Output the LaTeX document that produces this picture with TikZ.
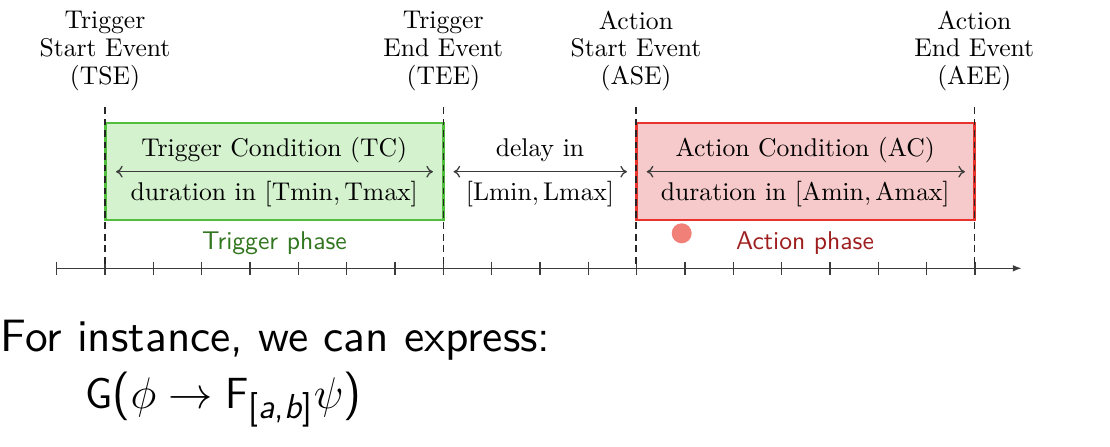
\documentclass[tikz,border=0pt]{standalone}
\usepackage{amsmath}
\usepackage{graphicx}
\usetikzlibrary{arrows.meta}
\definecolor{gborder}{RGB}{82,190,62}
\definecolor{gfill}{RGB}{212,242,206}
\definecolor{rborder}{RGB}{232,52,44}
\definecolor{rfill}{RGB}{246,202,202}
\definecolor{gtext}{RGB}{50,118,32}
\definecolor{rtext}{RGB}{158,30,30}
\definecolor{dotcol}{RGB}{240,128,120}
\definecolor{linecol}{RGB}{60,60,60}
\newcommand\sfletter[1]{{\fontsize{17}{20}\selectfont\sffamily #1}}
\begin{document}
\begin{tikzpicture}[x=0.39pt,y=-0.39pt,
  lbl/.style={align=center,inner sep=0pt,font=\fontsize{10}{10.9}\selectfont},
  phase/.style={inner sep=0pt,font=\fontsize{10}{12}\sffamily},
  gbox/.style={draw=gborder,fill=gfill,line width=1.1pt,minimum width=131.9pt,minimum height=37.8pt,inner sep=0pt},
  rbox/.style={draw=rborder,fill=rfill,line width=1.1pt,minimum width=131.9pt,minimum height=37.8pt,inner sep=0pt},
  dur/.style={draw=linecol,line width=0.5pt,{To[length=2.6pt,width=4.6pt]}-{To[length=2.6pt,width=4.6pt]}},
  evline/.style={draw=black!85,line width=0.6pt,dash pattern=on 2.6pt off 1.9pt},
  axisline/.style={draw=linecol,line width=0.5pt},
  tickmark/.style={draw=linecol,line width=0.5pt},
  big/.style={inner sep=0pt,font=\fontsize{10}{12}\sffamily}]
\useasboundingbox (0,0) rectangle (1110,446);

% event labels
\node[lbl] (tse) at (105,51) {Trigger\\Start Event\\(TSE)};
\node[lbl] (tee) at (443.3,51) {Trigger\\End Event\\(TEE)};
\node[lbl] (ase) at (636,51) {Action\\Start Event\\(ASE)};
\node[lbl] (aee) at (974.3,51) {Action\\End Event\\(AEE)};

% boxes
\node[gbox] (tc) at (274.2,171.5) {};
\node[rbox] (ac) at (805.2,171.5) {};

% box texts
\node[lbl] (tct) at (274.2,150) {Trigger Condition (TC)};
\node[lbl] (tcd) at (274.2,194.5) {duration in $[\mathrm{Tmin},\mathrm{Tmax}]$};
\node[lbl] (dlt) at (540,150) {delay in};
\node[lbl] (dld) at (540,194.5) {$[\mathrm{Lmin},\mathrm{Lmax}]$};
\node[lbl] (act) at (805.2,150) {Action Condition (AC)};
\node[lbl] (acd) at (805.2,194.5) {duration in $[\mathrm{Amin},\mathrm{Amax}]$};

% duration arrows
\coordinate (tcl) at (116,171.7);
\coordinate (tcr) at (433,171.7);
\coordinate (dll) at (453.5,171.7);
\coordinate (dlr) at (627,171.7);
\coordinate (acl) at (646.7,171.7);
\coordinate (acr) at (965,171.7);
\draw[dur] (tcl) -- (tcr);
\draw[dur] (dll) -- (dlr);
\draw[dur] (acl) -- (acr);

% phase labels and dot
\node[phase,text=gtext] (tph) at (274.5,243.5) {Trigger phase};
\node[phase,text=rtext] (aph) at (805,243.5) {Action phase};
\fill[dotcol] (681.7,233.3) circle (3.9pt);

% axis
\coordinate (ax0) at (56.7,268.3);
\coordinate (axe) at (1021.5,268.3);
\draw[axisline,-{Latex[length=3.4pt,width=2.6pt]}] (ax0) -- (axe);
\foreach \i in {0,...,19} {
  \draw[tickmark] (56.7+48.33*\i,261.5) -- (56.7+48.33*\i,275.3);
}

% event lines
\coordinate (e1t) at (105,107);   \coordinate (e1b) at (105,268.3);
\coordinate (e2t) at (443.3,107); \coordinate (e2b) at (443.3,268.3);
\coordinate (e3t) at (636,107);   \coordinate (e3b) at (636,268.3);
\coordinate (e4t) at (974.3,107); \coordinate (e4b) at (974.3,268.3);
\draw[evline] (e1t) -- (e1b);
\draw[evline] (e2t) -- (e2b);
\draw[evline] (e3t) -- (e3b);
\draw[evline] (e4t) -- (e4b);

% bottom text
\node[big,anchor=base west] (inst) at (0,351.5) {\scalebox{1.77}{For instance, we can express:}};
\node[anchor=base west,inner sep=0pt,font=\fontsize{19}{22}\selectfont] (form) at (85,408)
  {\sfletter{G}\textsf{(}$\phi\rightarrow{}$\sfletter{F}$_{\text{\fontsize{13.5}{15}\selectfont\sffamily[\textit{a},\textit{b}]}}\psi$\textsf{)}};
\end{tikzpicture}
\end{document}
